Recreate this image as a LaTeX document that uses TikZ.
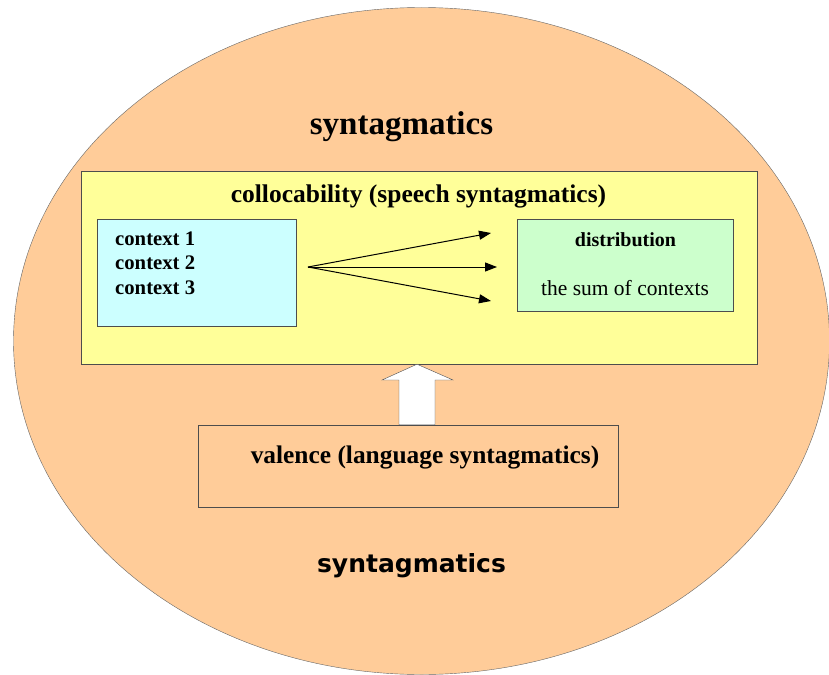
\documentclass[tikz,border=0pt]{standalone}
\usepackage{fontspec}
\setmainfont{Liberation Serif}
\newfontfamily\heavysans{DejaVu Sans}
\usetikzlibrary{shapes.geometric,arrows.meta,positioning}

\definecolor{peach}{HTML}{FFCC99}
\definecolor{paleyellow}{HTML}{FFFF99}
\definecolor{palecyan}{HTML}{CCFFFF}
\definecolor{palegreen}{HTML}{CCFFCC}
\definecolor{boxline}{HTML}{4D4D4D}

\begin{document}
\begin{tikzpicture}[x=1pt,y=-1pt]

  \tikzstyle{field} = [draw=gray!80!black,fill=peach,ellipse,minimum width=816pt,minimum height=667pt,inner sep=0pt]
  \tikzstyle{levelbox} = [draw=boxline,inner sep=0pt]
  \tikzstyle{txt} = [anchor=base,inner sep=0pt]
  \tikzstyle{fanarrow} = [-{Triangle[length=12pt,width=9pt]},line width=1pt]

  \useasboundingbox (0,0) rectangle (829,674);

  \node[field] (field) at (421.5,341) {};

  \node[txt] (syntop) at (401.5,135) {\fontsize{33}{36}\selectfont\bfseries syntagmatics};

  \node[levelbox,fill=paleyellow,minimum width=676pt,minimum height=193pt] (colloc) at (419,267.5) {};
  \node[txt] (colloctext) at (418.5,202) {\fontsize{25.5}{28}\selectfont\bfseries collocability (speech syntagmatics)};

  \node[levelbox,fill=palecyan,minimum width=199pt,minimum height=107pt] (contexts) at (196.5,272.5) {};
  \foreach \i/\y in {1/245,2/269.5,3/294} {
    \node[txt,anchor=base west] (context\i) at (115,\y) {\fontsize{20.7}{24}\selectfont\bfseries context \i};
  }

  \node[levelbox,fill=palegreen,minimum width=216pt,minimum height=92pt] (distrib) at (625,265) {};
  \node[txt] (distribtitle) at (625.5,246) {\fontsize{20}{24}\selectfont\bfseries distribution};
  \node[txt] (distribsum) at (625,295) {\fontsize{21.5}{24}\selectfont the sum of contexts};

  \coordinate (fan) at (308,267);
  \coordinate (tip1) at (491,233);
  \coordinate (tip2) at (497,267);
  \coordinate (tip3) at (491,301);
  \foreach \t in {1,2,3} \draw[fanarrow] (fan) -- (tip\t);

  \node[levelbox,minimum width=420pt,minimum height=82pt] (valence) at (408,466) {};
  \node[txt] (valencetext) at (425,463) {\fontsize{25.4}{28}\selectfont\bfseries valence (language syntagmatics)};

  % block arrow valence -> collocability
  \draw[draw=boxline,fill=white] (valence.north -| 399,0) -- (399,380) -- (382,380)
    -- (colloc.south -| 417,0) -- (453,380) -- (435,380) -- (valence.north -| 435,0) -- cycle;

  \node[txt] (synbottom) at (411.5,572) {\fontsize{25}{28}\selectfont\heavysans\bfseries syntagmatics};

\end{tikzpicture}
\end{document}
